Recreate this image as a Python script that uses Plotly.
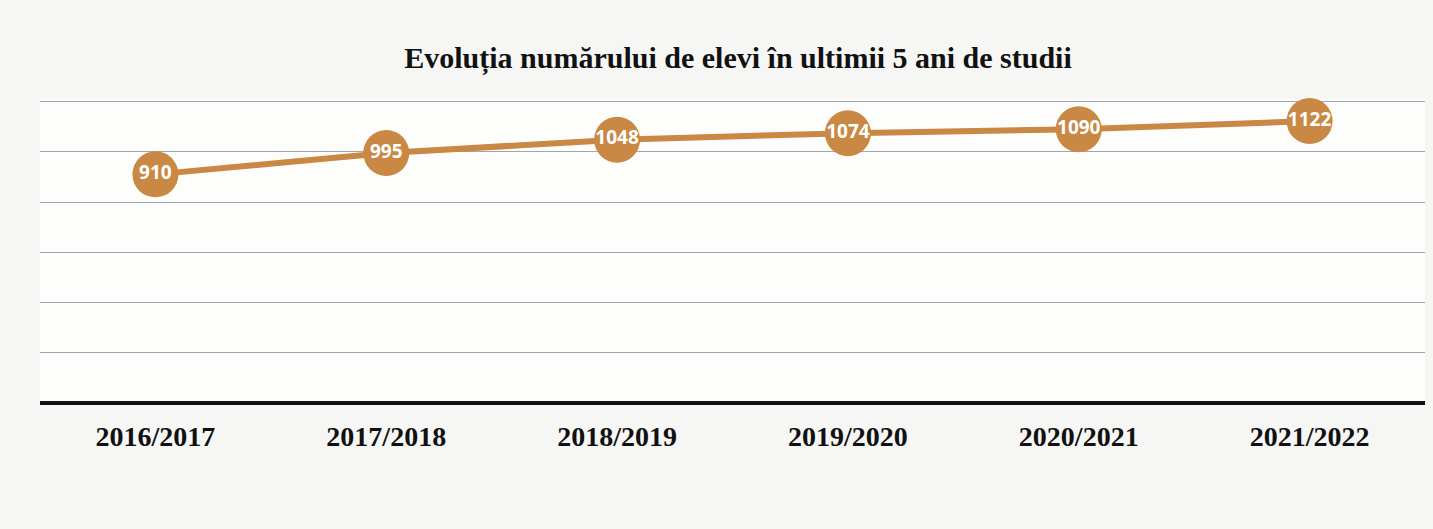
import plotly.graph_objects as go

years = ["2016/2017", "2017/2018", "2018/2019", "2019/2020", "2020/2021", "2021/2022"]
students = [910, 995, 1048, 1074, 1090, 1122]
y_ticks = [0, 200, 400, 600, 800, 1000, 1200]

color = "#C98843"

fig = go.Figure()
fig.add_trace(go.Scatter(
    x=years, y=students, mode="lines+markers+text",
    line=dict(color=color, width=6),
    marker=dict(size=46, color=color),
    text=[str(v) for v in students], textposition="middle center",
    textfont=dict(family="Open Sans", size=19, color="white", weight="bold"),
    cliponaxis=False, showlegend=False,
))

fig.update_layout(
    width=1433, height=529,
    margin=dict(l=40, r=8, t=99, b=126),
    paper_bgcolor="#f6f6f4", plot_bgcolor="#fdfdfc",
    title=dict(text="<b>Evoluția numărului de elevi în ultimii 5 ani de studii</b>",
               x=0.515, xanchor="center", y=0.892, yanchor="middle",
               font=dict(family="Liberation Serif", size=30, color="#111111")),
    xaxis=dict(type="category", range=[-0.5, 5.5], showgrid=False,
               showline=False, zeroline=False, ticks="",
               tickfont=dict(family="Liberation Serif", size=28, color="#111111", weight="bold"),
               ticklabelstandoff=14),
    yaxis=dict(range=[0, 1210], tickvals=y_ticks, showticklabels=False,
               showgrid=True, gridcolor="#a3a5ad", gridwidth=1,
               zeroline=True, zerolinecolor="#111111", zerolinewidth=4,
               showline=False),
)

fig.write_html("out.html")
